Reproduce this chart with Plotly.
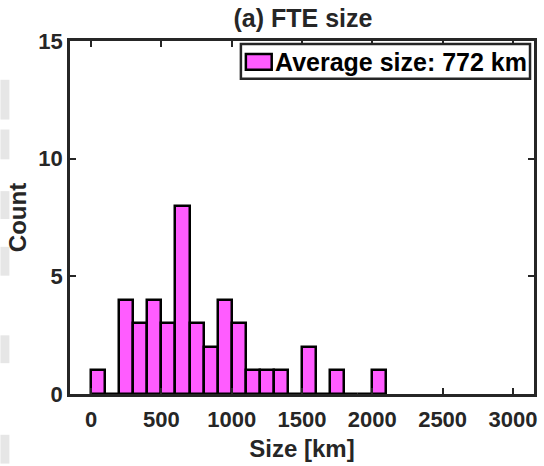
import plotly.graph_objects as go

# Histogram of FTE sizes, 100 km bins
bin_left = [0, 100, 200, 300, 400, 500, 600, 700, 800, 900, 1000, 1100, 1200,
            1300, 1400, 1500, 1600, 1700, 1800, 1900, 2000]
counts = [1, 0, 4, 3, 4, 3, 8, 3, 2, 4, 3, 1, 1, 1, 0, 2, 0, 1, 0, 0, 1]
bin_width = 100
legend_label = "Average size: 772 km"
x_ticks = [0, 500, 1000, 1500, 2000, 2500, 3000]
y_ticks = [0, 5, 10, 15]

ink = "#262626"
bar_fill = "#ff5cff"
font_family = "Liberation Sans, Arial, Helvetica, sans-serif"

centers = [b + bin_width / 2 for b in bin_left]

fig = go.Figure()
fig.add_trace(go.Bar(
    x=centers,
    y=counts,
    width=[bin_width] * len(counts),
    marker=dict(color=bar_fill, line=dict(color="black", width=2.5)),
    name=legend_label,
    showlegend=False,
))

# plot-area geometry in pixels (used to place paper-referenced decorations)
L, R, T, B = 70, 537, 41, 396
W, H = R - L, B - T


def px(x):
    return (x - L) / W


def py(y):
    return (B - y) / H


# light grey strips along the left edge
for y0, y1 in [(80, 120), (130, 160), (192, 220), (248, 277), (337, 365), (437, 466)]:
    fig.add_shape(type="rect", xref="paper", yref="paper",
                  x0=px(0), x1=px(9), y0=py(y1), y1=py(y0),
                  fillcolor="#e6e6e6", line=dict(width=0), layer="below")

# boxed legend in the top-right corner
fig.add_shape(type="rect", xref="paper", yref="paper",
              x0=px(242), x1=px(533), y0=py(79), y1=py(44),
              fillcolor="white", line=dict(color=ink, width=2.5), layer="above")
fig.add_shape(type="rect", xref="paper", yref="paper",
              x0=px(247), x1=px(273), y0=py(70), y1=py(54),
              fillcolor=bar_fill, line=dict(color="black", width=2.5), layer="above")
fig.add_annotation(xref="paper", yref="paper", x=px(274), y=py(62),
                   xanchor="left", yanchor="middle", showarrow=False,
                   text=legend_label,
                   font=dict(family=font_family, size=25, color="black", weight="bold"))

axis_common = dict(
    showline=True, linecolor=ink, linewidth=2.5,
    mirror="ticks", ticks="inside", ticklen=6, tickwidth=2, tickcolor=ink,
    showgrid=False, zeroline=False,
    tickfont=dict(family=font_family, size=22, color=ink, weight="bold"),
)

fig.update_layout(
    width=544, height=466,
    margin=dict(l=L, r=544 - R, t=T, b=466 - B),
    plot_bgcolor="white", paper_bgcolor="white",
    bargap=0,
    showlegend=False,
    title=dict(text="(a) FTE size", x=303 / 544, xanchor="center",
               y=1 - 18 / 466, yanchor="middle",
               font=dict(family=font_family, size=25, color=ink, weight="bold")),
    xaxis=dict(range=[-150, 3150], tickvals=x_ticks, ticklabelstandoff=4,
               title=dict(text="Size [km]", standoff=10,
                          font=dict(family=font_family, size=24, color=ink, weight="bold")),
               **axis_common),
    yaxis=dict(range=[0, 15], tickvals=y_ticks,
               title=dict(text="Count", standoff=5,
                          font=dict(family=font_family, size=24, color=ink, weight="bold")),
               **axis_common),
)

fig.write_html("out.html")
